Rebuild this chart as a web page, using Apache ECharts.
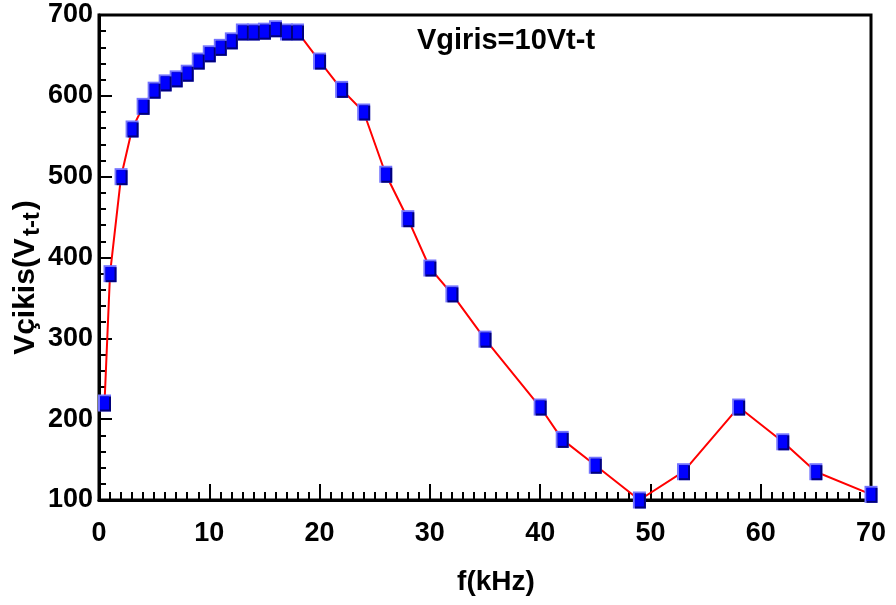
<!DOCTYPE html>
<html>
<head>
<meta charset="utf-8">
<script src="https://cdn.jsdelivr.net/npm/echarts@6/dist/echarts.min.js"></script>
<style>html,body{margin:0;padding:0;background:#fff;}#c{width:896px;height:605px;}</style>
</head>
<body>
<div id="c"></div>
<script>
var freq = [0.5,1,2,3,4,5,6,7,8,9,10,11,12,13,14,15,16,17,18,20,22,24,26,28,30,32,35,40,42,45,49,53,58,62,65,70];
var vout = [220,380,500,559,587,607,616,621,628,643,652,660,668,679,679,680,683,679,679,643,608,580,503,448,387,355,299,215,175,143,100,135,215,172,135,107];
var xTicks = [0,10,20,30,40,50,60,70];
var yTicks = [100,200,300,400,500,600,700];
var titleText = 'Vgiris=10Vt-t';
var xName = 'f(kHz)';

var pts = freq.map(function(f,i){return [f, vout[i]];});
var FONT = 'Liberation Sans';
var chart = echarts.init(document.getElementById('c'), null, {renderer:'canvas'});
function markerLayer(color, size, offset){
  return {type:'scatter', data:pts, symbol:'rect', symbolSize:size, symbolOffset:offset,
    itemStyle:{color:color, opacity:1}, clip:false, silent:true, z:5, animation:false};
}
chart.setOption({
  animation:false,
  title:{text:titleText, left:417, top:26, padding:0,
    textStyle:{fontFamily:FONT, fontSize:29, fontWeight:'bold', color:'#000'}},
  grid:{left:99, right:25, top:15, bottom:105, show:true, borderColor:'#000', borderWidth:3,
    backgroundColor:'transparent', containLabel:false, outerBoundsMode:'none'},
  xAxis:{type:'value', min:xTicks[0], max:xTicks[xTicks.length-1], interval:10,
    name:xName, nameLocation:'middle', nameGap:68, nameMoveOverlap:false,
    nameTextStyle:{fontFamily:FONT, fontSize:28, fontWeight:'bold', color:'#000', padding:[0,0,0,22]},
    axisLine:{show:true, lineStyle:{color:'#000', width:3}},
    axisTick:{show:true, inside:true, length:16, lineStyle:{color:'#000', width:2}},
    minorTick:{show:true, splitNumber:10, length:8, lineStyle:{color:'#000', width:2}},
    axisLabel:{fontFamily:FONT, fontSize:27, fontWeight:'bold', color:'#000', margin:20},
    splitLine:{show:false}},
  yAxis:{type:'value', min:yTicks[0], max:yTicks[yTicks.length-1], interval:100,
    name:'{a|Vçikis(V}{b|t-t}{a|)}', nameLocation:'middle', nameGap:55, nameRotate:90,
    nameMoveOverlap:false,
    nameTextStyle:{padding:[0,40,0,0],
      rich:{a:{fontFamily:FONT, fontSize:30, fontWeight:'bold', color:'#000', lineHeight:36, verticalAlign:'middle'},
            b:{fontFamily:FONT, fontSize:24, fontWeight:'bold', color:'#000', lineHeight:24, verticalAlign:'bottom', padding:[0,2,0,2]}}},
    axisLine:{show:true, lineStyle:{color:'#000', width:3}},
    axisTick:{show:true, inside:true, length:13, lineStyle:{color:'#000', width:2}},
    minorTick:{show:true, splitNumber:5, length:7, lineStyle:{color:'#000', width:2}},
    axisLabel:{fontFamily:FONT, fontSize:27, fontWeight:'bold', color:'#000', margin:6},
    splitLine:{show:false}},
  series:[
    {type:'line', data:pts, showSymbol:false, symbol:'none', lineStyle:{color:'#ff0000', width:2}, z:3, clip:false, silent:true},
    markerLayer('#7373ff', [13,17], [0,0]),
    markerLayer('#00007a', [11,15], [1,1]),
    markerLayer('#0000ff', [9,13], [0,0])
  ]
});
</script>
</body>
</html>
